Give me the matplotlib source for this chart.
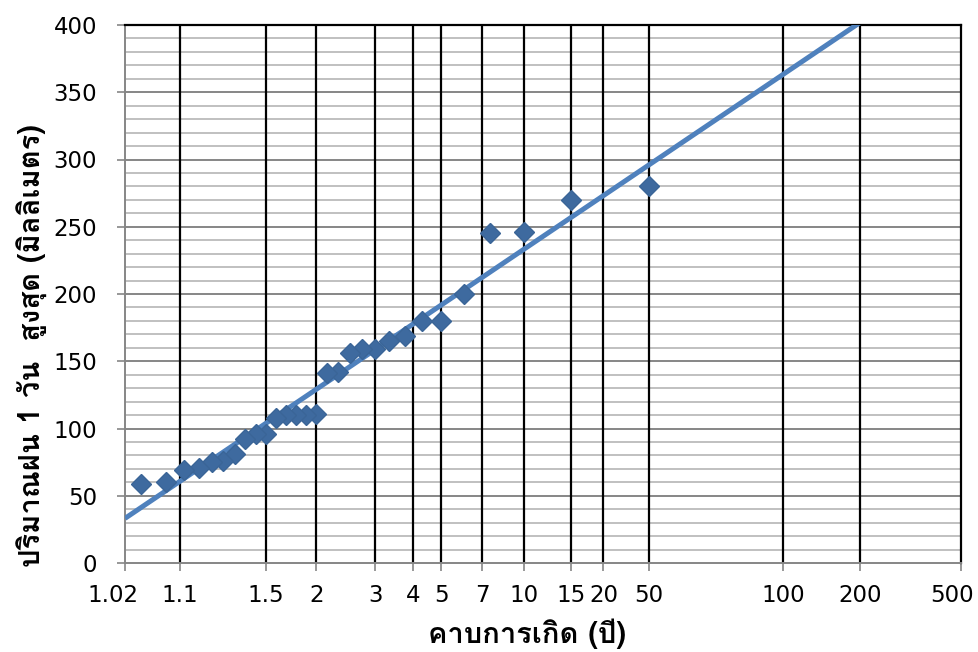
import numpy as np
import matplotlib
matplotlib.use('Agg')
from matplotlib import pyplot as plt
from matplotlib import font_manager
from matplotlib import transforms
from matplotlib.ft2font import FT2Font

# annual max 1-day rainfall (mm), ranked largest first
rain = [280, 270, 246, 245, 200, 180, 180, 169, 165, 159, 159, 156, 142, 141,
        111, 110, 110, 110, 108, 96, 96, 92, 81, 76, 75, 71, 69, 60, 59]
# return period of each point (years)
ret_period = [30, 15, 10, 7.5, 6, 5, 4.29, 3.75, 3.33, 3, 2.73, 2.5, 2.31, 2.14,
              2, 1.875, 1.765, 1.667, 1.579, 1.5, 1.429, 1.364, 1.304, 1.25,
              1.2, 1.154, 1.111, 1.071, 1.034]

# gumbel fit: rain = loc + scale * reduced variate
fit_loc = 108.9
fit_scale = 55.3

tick_T = [1.02, 1.1, 1.5, 2, 3, 4, 5, 7, 10, 15, 20, 30, 100, 200, 500]
tick_lab = ['1.02', '1.1', '1.5', '2', '3', '4', '5', '7', '10', '15', '20',
            '50', '100', '200', '500']

xlabel = 'คาบการเกิด (ปี)'
ylabel = 'ปริมาณฝน 1 วัน  สูงสุด (มิลลิเมตร)'


def gumbel(T):
    T = np.asarray(T, dtype=float)
    return -np.log(-np.log(1 - 1 / T))


# find an installed font with Thai glyphs
thai = None
for f in font_manager.fontManager.ttflist:
    try:
        if 0x0E01 in FT2Font(f.fname).get_charmap():
            thai = f.name
            break
    except Exception:
        pass
thai_fam = [thai, 'DejaVu Sans'] if thai else ['DejaVu Sans']

fig = plt.figure(figsize=(9.79, 6.52), dpi=100)
ax = fig.add_axes([125 / 979, 89 / 652, 836 / 979, 538 / 652])

# horizontal grid
for v in range(10, 400, 10):
    if v % 50 == 0:
        ax.axhline(v, color='#868686', lw=1.4, zorder=1)
    else:
        ax.axhline(v, color='#c0c0c0', lw=1.4, zorder=1)
# vertical lines at return periods
for t in tick_T[1:-1]:
    ax.axvline(gumbel(t), color='black', lw=1.6, zorder=2)

u = np.linspace(gumbel(1.02), gumbel(500), 200)
ax.plot(u, fit_loc + fit_scale * u, color='#4f81bd', lw=3.6, zorder=3,
        solid_capstyle='butt')
ax.plot(gumbel(ret_period), rain, 'D', color='#3e6a9f', markersize=10.5,
        markeredgecolor='#3a6597', zorder=4, clip_on=False)

ax.set_xlim(gumbel(1.02), gumbel(500))
ax.set_ylim(0, 400)
ax.set_xticks(gumbel(tick_T))
ax.set_xticklabels(tick_lab)
ax.set_yticks(range(0, 401, 50))
ax.tick_params(axis='both', labelsize=16.5, color='#868686', length=6, width=1.2)
ax.tick_params(axis='x', pad=9)
ax.tick_params(axis='y', pad=14)

# end labels sit a bit inside their ticks, as in the original
labs = ax.get_xticklabels()
for lab, dx in [(labs[0], -12), (labs[-1], -9)]:
    lab.set_transform(lab.get_transform() +
                      transforms.ScaledTranslation(dx / 100, 0, fig.dpi_scale_trans))

ax.spines['left'].set_color('#868686')
ax.spines['bottom'].set_color('#868686')
ax.spines['left'].set_linewidth(1.4)
ax.spines['bottom'].set_linewidth(1.4)
ax.spines['top'].set_color('black')
ax.spines['right'].set_color('black')
ax.spines['top'].set_linewidth(1.6)
ax.spines['right'].set_linewidth(1.6)

ax.set_xlabel(xlabel, fontsize=21, fontweight='bold', family=thai_fam)
ax.set_ylabel(ylabel, fontsize=21, fontweight='bold', family=thai_fam)
ax.xaxis.set_label_coords(0.481, -0.103)
ax.yaxis.set_label_coords(-0.093, 0.405)

fig.savefig('out.png', dpi=100)
